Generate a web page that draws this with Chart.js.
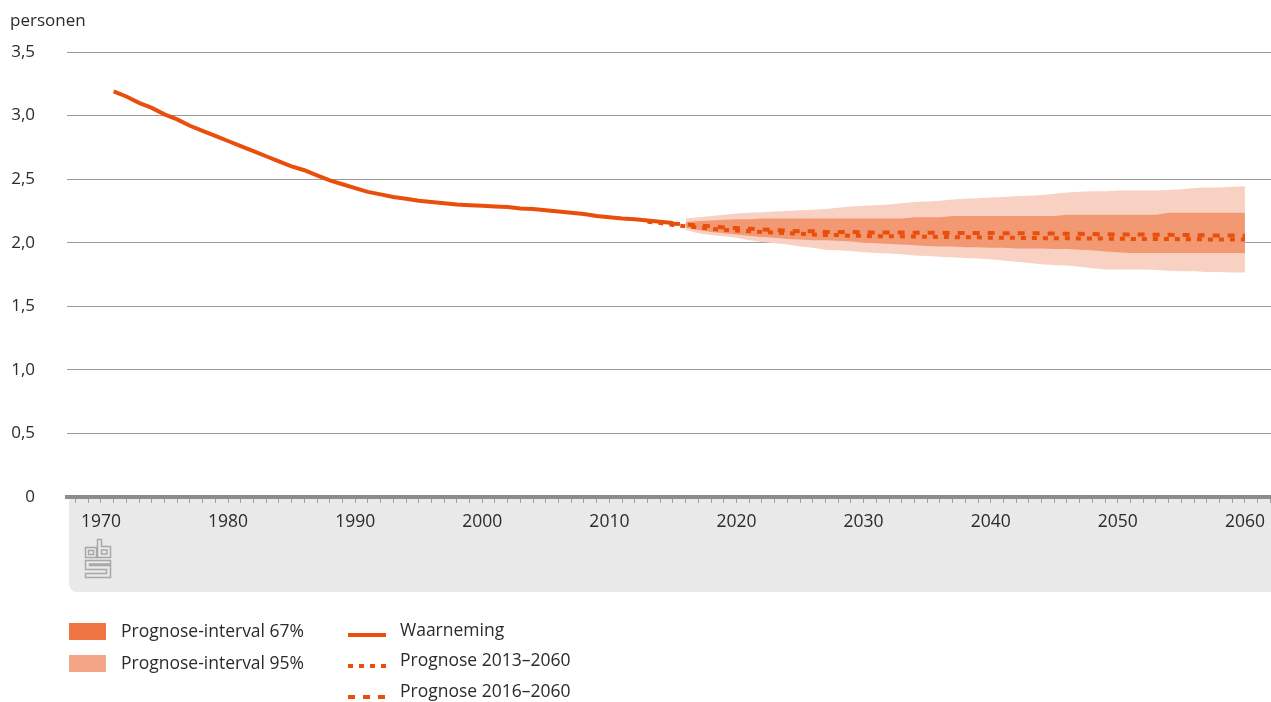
<!DOCTYPE html>
<html>
<head>
<meta charset="utf-8">
<script src="https://cdn.jsdelivr.net/npm/chart.js@4"></script>
<style>
  html, body { margin: 0; padding: 0; background: #fff; }
  #wrap { width: 1271px; height: 702px; position: relative; }
</style>
</head>
<body>
<div id="wrap"><canvas id="myChart" width="1271" height="702"></canvas></div>
<script>
// Gemiddelde huishoudensgrootte (personen)
const obsYears = Array.from({length: 45}, (_, i) => 1971 + i);
const waarneming = [
  3.19, 3.15, 3.10, 3.06, 3.01, 2.97, 2.92, 2.88, 2.84, 2.80,
  2.76, 2.72, 2.68, 2.64, 2.60, 2.57, 2.53, 2.49, 2.46, 2.43,
  2.40, 2.38, 2.36, 2.345, 2.33, 2.32, 2.31, 2.30, 2.295, 2.29,
  2.285, 2.28, 2.27, 2.265, 2.255, 2.245, 2.235, 2.225, 2.21, 2.20,
  2.19, 2.185, 2.175, 2.165, 2.155
];

const prog13Years = Array.from({length: 48}, (_, i) => 2013 + i);
const prognose2013 = [
  2.165, 2.155, 2.14, 2.13, 2.12, 2.11, 2.10, 2.095, 2.09, 2.085,
  2.08, 2.075, 2.07, 2.065, 2.06, 2.06, 2.055, 2.055, 2.05, 2.05,
  2.05, 2.048, 2.047, 2.045, 2.044, 2.043, 2.042, 2.04, 2.04, 2.038,
  2.037, 2.036, 2.035, 2.035, 2.034, 2.033, 2.032, 2.031, 2.03, 2.03,
  2.03, 2.029, 2.028, 2.027, 2.026, 2.026, 2.025, 2.025
];

const prog16Years = Array.from({length: 46}, (_, i) => 2015 + i);
const prognose2016 = [
  2.15, 2.145, 2.135, 2.13, 2.12, 2.115, 2.11, 2.105, 2.10, 2.095,
  2.09, 2.09, 2.085, 2.085, 2.085, 2.08, 2.08, 2.08, 2.08, 2.079,
  2.078, 2.078, 2.077, 2.077, 2.076, 2.076, 2.075, 2.075, 2.075, 2.074,
  2.072, 2.07, 2.07, 2.068, 2.067, 2.065, 2.065, 2.064, 2.063, 2.062,
  2.06, 2.06, 2.058, 2.057, 2.056, 2.055
];

const bandYears = Array.from({length: 45}, (_, i) => 2016 + i);
const band95Hoog = [
  2.19, 2.20, 2.21, 2.22, 2.23, 2.235, 2.24, 2.245, 2.25, 2.255,
  2.26, 2.265, 2.275, 2.285, 2.29, 2.295, 2.30, 2.31, 2.32, 2.325,
  2.33, 2.34, 2.345, 2.35, 2.355, 2.36, 2.365, 2.37, 2.375, 2.385,
  2.395, 2.40, 2.405, 2.405, 2.41, 2.41, 2.41, 2.41, 2.415, 2.42,
  2.43, 2.435, 2.435, 2.44, 2.445
];
const band95Laag = [
  2.10, 2.075, 2.06, 2.05, 2.04, 2.02, 2.005, 1.995, 1.985, 1.97,
  1.96, 1.945, 1.94, 1.935, 1.925, 1.92, 1.915, 1.91, 1.90, 1.895,
  1.89, 1.885, 1.88, 1.875, 1.87, 1.86, 1.85, 1.84, 1.83, 1.825,
  1.82, 1.81, 1.80, 1.79, 1.79, 1.79, 1.79, 1.785, 1.78, 1.775,
  1.775, 1.77, 1.77, 1.765, 1.765
];
const band67Hoog = [
  2.16, 2.17, 2.175, 2.18, 2.185, 2.185, 2.19, 2.19, 2.19, 2.19,
  2.19, 2.19, 2.19, 2.19, 2.19, 2.19, 2.19, 2.19, 2.20, 2.20,
  2.20, 2.21, 2.21, 2.21, 2.21, 2.21, 2.21, 2.21, 2.21, 2.21,
  2.22, 2.22, 2.22, 2.22, 2.22, 2.22, 2.22, 2.22, 2.235, 2.235,
  2.235, 2.235, 2.235, 2.235, 2.235
];
const band67Laag = [
  2.12, 2.10, 2.085, 2.075, 2.065, 2.055, 2.045, 2.04, 2.03, 2.025,
  2.02, 2.02, 2.015, 2.01, 2.00, 1.995, 1.99, 1.985, 1.98, 1.975,
  1.97, 1.97, 1.965, 1.965, 1.96, 1.96, 1.955, 1.955, 1.955, 1.95,
  1.95, 1.945, 1.94, 1.93, 1.925, 1.92, 1.92, 1.92, 1.92, 1.92,
  1.92, 1.92, 1.92, 1.92, 1.92
];

const yTicks = [0, 0.5, 1, 1.5, 2, 2.5, 3, 3.5];
const xLabelStep = 10;

const ORANJE = '#e94f0b';
const TEKST = '#2b2b2b';
const FONT = '"Open Sans", "DejaVu Sans", sans-serif';
const DOTTED = [5, 6];
const DASHED = [7, 8];

const pts = (xs, ys) => xs.map((x, i) => ({x: x, y: ys[i]}));

const bandDs = (label, xs, ys, fill, color, order) => ({
  label: label,
  data: pts(xs, ys),
  borderColor: 'rgba(0,0,0,0)',
  borderWidth: 0,
  backgroundColor: color,
  fill: fill,
  pointRadius: 0,
  tension: 0,
  order: order,
});

const decor = {
  id: 'decor',
  beforeDraw(chart) {
    const {ctx, chartArea} = chart;
    ctx.save();
    ctx.fillStyle = '#e9e9e9';
    ctx.beginPath();
    ctx.roundRect(chartArea.left + 2, chartArea.bottom, chart.width - chartArea.left - 2, 95, [0, 0, 0, 8]);
    ctx.fill();

    // cbs logo
    ctx.strokeStyle = '#a8a8a8';
    ctx.lineWidth = 1.5;
    ctx.strokeRect(85.5, 547.5, 11, 10);
    ctx.strokeRect(88.5, 550.5, 5, 4);
    ctx.beginPath();
    ctx.moveTo(97.5, 557.5); ctx.lineTo(97.5, 539.5); ctx.lineTo(101.5, 539.5);
    ctx.lineTo(101.5, 546.5); ctx.lineTo(110.5, 546.5); ctx.lineTo(110.5, 557.5); ctx.closePath();
    ctx.stroke();
    ctx.strokeRect(101.5, 550, 5.5, 4);
    ctx.beginPath();
    ctx.moveTo(110.5, 560.5); ctx.lineTo(85.5, 560.5); ctx.lineTo(85.5, 569.5);
    ctx.lineTo(106.5, 569.5); ctx.lineTo(106.5, 573.5); ctx.lineTo(85.5, 573.5);
    ctx.lineTo(85.5, 577.5); ctx.lineTo(110.5, 577.5); ctx.lineTo(110.5, 565.5);
    ctx.lineTo(89.5, 565.5); ctx.lineTo(89.5, 564); ctx.lineTo(110.5, 564); ctx.closePath();
    ctx.stroke();
    ctx.restore();
  },
  afterDraw(chart) {
    const {ctx} = chart;
    ctx.save();
    ctx.fillStyle = TEKST;
    ctx.textBaseline = 'middle';
    ctx.textAlign = 'left';
    ctx.font = '17px ' + FONT;
    ctx.fillText('personen', 10, 21);

    // legenda
    ctx.fillStyle = '#ee7443';
    ctx.fillRect(69, 623, 37, 17);
    ctx.fillStyle = '#f4a586';
    ctx.fillRect(69, 655, 37, 17);
    ctx.fillStyle = TEKST;
    ctx.font = '17.5px ' + FONT;
    ctx.fillText('Prognose-interval 67%', 121, 632);
    ctx.fillText('Prognose-interval 95%', 121, 664);
    ctx.fillText('Waarneming', 400, 631);
    ctx.fillText('Prognose 2013\u20132060', 400, 661);
    ctx.fillText('Prognose 2016\u20132060', 400, 692);

    ctx.strokeStyle = ORANJE;
    ctx.lineWidth = 4;
    [[635, []], [666, DOTTED], [697, DASHED]].forEach(([y, dash]) => {
      ctx.setLineDash(dash);
      ctx.beginPath();
      ctx.moveTo(348, y);
      ctx.lineTo(386, y);
      ctx.stroke();
    });
    ctx.restore();
  }
};

const ctx = document.getElementById('myChart').getContext('2d');

const myChart = new Chart(ctx, {
  type: 'line',
  data: {
    datasets: [
      bandDs('95% hoog', bandYears, band95Hoog, '+1', '#f9d1c3', 10),
      bandDs('95% laag', bandYears, band95Laag, false, '#f9d1c3', 10),
      bandDs('67% hoog', bandYears, band67Hoog, '+1', '#f29873', 9),
      bandDs('67% laag', bandYears, band67Laag, false, '#f29873', 9),
      {
        label: 'Waarneming',
        data: pts(obsYears, waarneming),
        borderColor: ORANJE,
        borderWidth: 4,
        pointRadius: 0,
        tension: 0,
        fill: false,
        order: 2,
      },
      {
        label: 'Prognose 2013\u20132060',
        data: pts(prog13Years, prognose2013),
        borderColor: ORANJE,
        borderWidth: 4,
        borderDash: DOTTED,
        pointRadius: 0,
        tension: 0,
        fill: false,
        order: 1,
      },
      {
        label: 'Prognose 2016\u20132060',
        data: pts(prog16Years, prognose2016),
        borderColor: ORANJE,
        borderWidth: 4,
        borderDash: DASHED,
        pointRadius: 0,
        tension: 0,
        fill: false,
        order: 0,
      },
    ],
  },
  options: {
    responsive: false,
    animation: false,
    layout: {padding: {top: 52, left: 0, right: 0, bottom: 110}},
    plugins: {
      legend: {display: false},
      tooltip: {enabled: false},
    },
    scales: {
      x: {
        type: 'linear',
        min: 1967.33,
        max: 2062.05,
        afterBuildTicks: (scale) => {
          const t = [];
          for (let y = 1968; y <= 2062; y++) t.push({value: y});
          scale.ticks = t;
        },
        afterFit: (scale) => {
          scale.height = 95;
          scale.paddingLeft = 0;
          scale.paddingRight = 0;
        },
        ticks: {
          autoSkip: false,
          maxRotation: 0,
          padding: 9,
          color: TEKST,
          font: {family: FONT, size: 17.5},
          callback: (v) => (v % xLabelStep === 0 ? String(v) : ''),
        },
        grid: {
          drawOnChartArea: false,
          drawTicks: true,
          tickLength: 6,
          tickColor: '#a0a0a0',
        },
        border: {display: true, color: '#8c8c8c', width: 4},
      },
      y: {
        min: 0,
        max: 3.5,
        afterBuildTicks: (scale) => { scale.ticks = yTicks.map(v => ({value: v})); },
        afterFit: (scale) => { scale.width = 67; },
        ticks: {
          crossAlign: 'near',
          padding: 32,
          color: TEKST,
          font: {family: FONT, size: 17},
          callback: (v) => (v === 0 ? '0' : v.toFixed(1).replace('.', ',')),
        },
        grid: {color: '#9a9a9a', lineWidth: 1, drawTicks: false},
        border: {display: false},
      },
    },
  },
  plugins: [decor],
});
</script>
</body>
</html>
